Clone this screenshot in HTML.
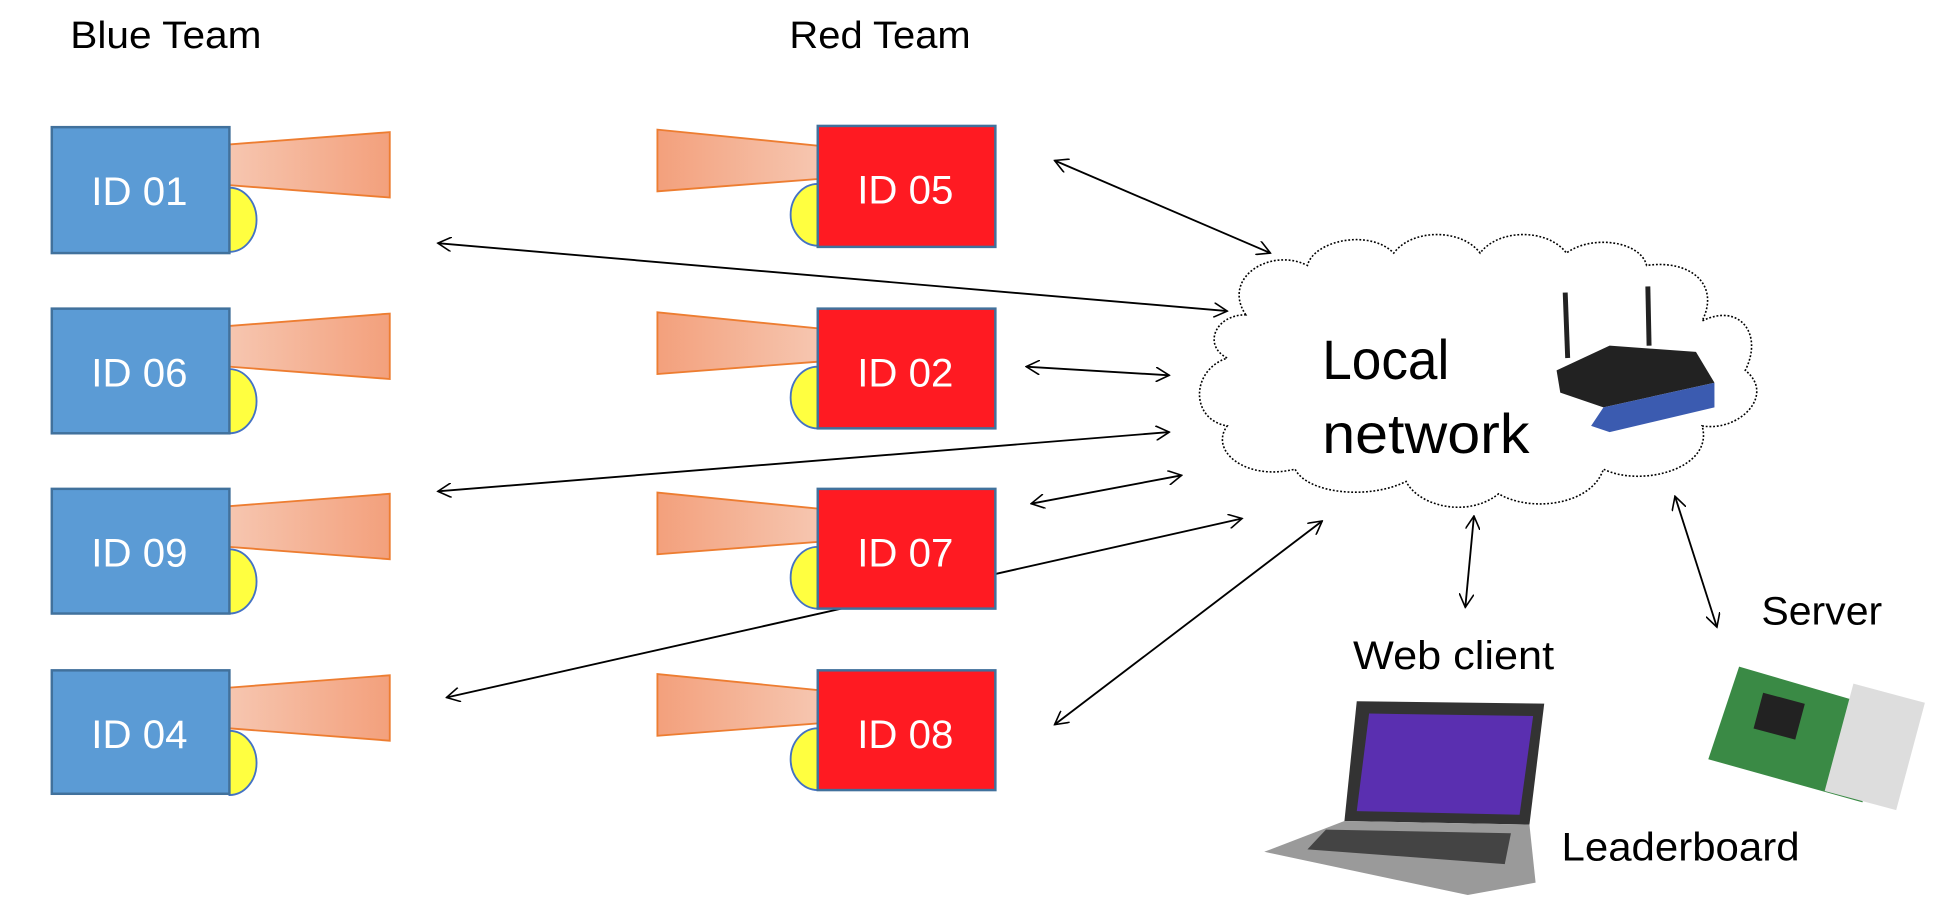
<!DOCTYPE html>
<html><head><style>html,body{margin:0;padding:0;background:#fff;overflow:hidden}svg{display:block}</style></head>
<body>
<svg width="1934" height="916" viewBox="0 0 1568 742" preserveAspectRatio="none" xmlns="http://www.w3.org/2000/svg" font-family="'Liberation Sans', sans-serif">
<defs>
<linearGradient id="gb" x1="0" x2="1"><stop offset="0" stop-color="#f6c6b0"/><stop offset="1" stop-color="#f3a07c"/></linearGradient>
<linearGradient id="gr" x1="0" x2="1"><stop offset="0" stop-color="#f3a07c"/><stop offset="1" stop-color="#f6c6b0"/></linearGradient>
<marker id="a" viewBox="0 0 12 12" refX="11" refY="6" markerWidth="12" markerHeight="12" orient="auto-start-reverse" markerUnits="userSpaceOnUse"><path d="M0,0 L11,6 L0,12" fill="none" stroke="#000" stroke-width="1.3"/></marker>
</defs>
<text x="57" y="39" font-size="31" textLength="155" lengthAdjust="spacingAndGlyphs">Blue Team</text>
<text x="640" y="39" font-size="31" textLength="147" lengthAdjust="spacingAndGlyphs">Red Team</text>
<g>
<g transform="translate(0,0)"><path d="M186,152 a22,26 0 0 1 0,52 z" fill="#ffff40" stroke="#4472c4" stroke-width="1.5"/><polygon points="186,117 316,107 316,160 186,150" fill="url(#gb)" stroke="#ed7d31" stroke-width="1.5"/><rect x="42" y="103" width="144" height="102" fill="#5b9bd5" stroke="#41719c" stroke-width="2"/><text x="74" y="166" font-size="32" fill="#fff" textLength="78" lengthAdjust="spacingAndGlyphs">ID 01</text></g>
<g transform="translate(0,147)"><path d="M186,152 a22,26 0 0 1 0,52 z" fill="#ffff40" stroke="#4472c4" stroke-width="1.5"/><polygon points="186,117 316,107 316,160 186,150" fill="url(#gb)" stroke="#ed7d31" stroke-width="1.5"/><rect x="42" y="103" width="144" height="101" fill="#5b9bd5" stroke="#41719c" stroke-width="2"/><text x="74" y="166" font-size="32" fill="#fff" textLength="78" lengthAdjust="spacingAndGlyphs">ID 06</text></g>
<g transform="translate(0,293)"><path d="M186,152 a22,26 0 0 1 0,52 z" fill="#ffff40" stroke="#4472c4" stroke-width="1.5"/><polygon points="186,117 316,107 316,160 186,150" fill="url(#gb)" stroke="#ed7d31" stroke-width="1.5"/><rect x="42" y="103" width="144" height="101" fill="#5b9bd5" stroke="#41719c" stroke-width="2"/><text x="74" y="166" font-size="32" fill="#fff" textLength="78" lengthAdjust="spacingAndGlyphs">ID 09</text></g>
<g transform="translate(0,440)"><path d="M186,152 a22,26 0 0 1 0,52 z" fill="#ffff40" stroke="#4472c4" stroke-width="1.5"/><polygon points="186,117 316,107 316,160 186,150" fill="url(#gb)" stroke="#ed7d31" stroke-width="1.5"/><rect x="42" y="103" width="144" height="100" fill="#5b9bd5" stroke="#41719c" stroke-width="2"/><text x="74" y="166" font-size="32" fill="#fff" textLength="78" lengthAdjust="spacingAndGlyphs">ID 04</text></g>
</g>
<line x1="362" y1="565" x2="1007" y2="420" stroke="#000" stroke-width="1.5" marker-start="url(#a)" marker-end="url(#a)"/>
<g>
<g transform="translate(0,0)"><path d="M663,149 a22,25 0 0 0 0,50 z" fill="#ffff40" stroke="#4472c4" stroke-width="1.5"/><polygon points="533,105 663,118 663,145 533,155" fill="url(#gr)" stroke="#ed7d31" stroke-width="1.5"/><rect x="663" y="102" width="144" height="98" fill="#ff1a22" stroke="#41719c" stroke-width="2"/><text x="695" y="165" font-size="32" fill="#fff" textLength="78" lengthAdjust="spacingAndGlyphs">ID 05</text></g>
<g transform="translate(0,148)"><path d="M663,149 a22,25 0 0 0 0,50 z" fill="#ffff40" stroke="#4472c4" stroke-width="1.5"/><polygon points="533,105 663,118 663,145 533,155" fill="url(#gr)" stroke="#ed7d31" stroke-width="1.5"/><rect x="663" y="102" width="144" height="97" fill="#ff1a22" stroke="#41719c" stroke-width="2"/><text x="695" y="165" font-size="32" fill="#fff" textLength="78" lengthAdjust="spacingAndGlyphs">ID 02</text></g>
<g transform="translate(0,294)"><path d="M663,149 a22,25 0 0 0 0,50 z" fill="#ffff40" stroke="#4472c4" stroke-width="1.5"/><polygon points="533,105 663,118 663,145 533,155" fill="url(#gr)" stroke="#ed7d31" stroke-width="1.5"/><rect x="663" y="102" width="144" height="97" fill="#ff1a22" stroke="#41719c" stroke-width="2"/><text x="695" y="165" font-size="32" fill="#fff" textLength="78" lengthAdjust="spacingAndGlyphs">ID 07</text></g>
<g transform="translate(0,441)"><path d="M663,149 a22,25 0 0 0 0,50 z" fill="#ffff40" stroke="#4472c4" stroke-width="1.5"/><polygon points="533,105 663,118 663,145 533,155" fill="url(#gr)" stroke="#ed7d31" stroke-width="1.5"/><rect x="663" y="102" width="144" height="97" fill="#ff1a22" stroke="#41719c" stroke-width="2"/><text x="695" y="165" font-size="32" fill="#fff" textLength="78" lengthAdjust="spacingAndGlyphs">ID 08</text></g>
</g>
<path d="M1010,255 C990,225 1030,200 1060,215 C1065,195 1110,185 1130,205 C1145,185 1185,185 1200,205 C1215,185 1255,185 1270,205 C1290,190 1330,195 1335,215 C1370,210 1395,230 1380,260 C1410,245 1430,270 1415,300 C1440,320 1410,350 1380,345 C1390,380 1330,395 1300,380 C1290,410 1240,415 1215,400 C1190,420 1150,410 1140,390 C1110,405 1060,400 1050,380 C1010,390 980,365 995,345 C965,340 965,300 995,290 C975,280 985,255 1010,255 Z" fill="#fff" stroke="#000" stroke-width="1.3" stroke-dasharray="1.5,1.5"/>
<text x="1072" y="307" font-size="45" textLength="103" lengthAdjust="spacingAndGlyphs">Local</text>
<text x="1072" y="367" font-size="45" textLength="168" lengthAdjust="spacingAndGlyphs">network</text>
<g>
<line x1="1271" y1="290" x2="1269" y2="237" stroke="#222" stroke-width="4"/>
<line x1="1337" y1="280" x2="1336" y2="232" stroke="#222" stroke-width="4"/>
<polygon points="1262,300 1305,280 1375,285 1390,310 1300,330 1265,318" fill="#222"/>
<polygon points="1300,330 1390,310 1390,330 1305,350 1290,345" fill="#3b5bb0"/>
</g>
<g stroke="#000" stroke-width="1.5" marker-start="url(#a)" marker-end="url(#a)">
<line x1="855" y1="130" x2="1030" y2="205"/>
<line x1="355" y1="197" x2="995" y2="252"/>
<line x1="832" y1="297" x2="948" y2="304"/>
<line x1="355" y1="398" x2="948" y2="350"/>
<line x1="836" y1="408" x2="958" y2="385"/>
<line x1="855" y1="587" x2="1072" y2="422"/>
<line x1="1188" y1="492" x2="1195" y2="418"/>
<line x1="1358" y1="402" x2="1392" y2="508"/>
</g>
<text x="1097" y="542" font-size="32" textLength="163" lengthAdjust="spacingAndGlyphs">Web client</text>
<text x="1428" y="506" font-size="32" textLength="98" lengthAdjust="spacingAndGlyphs">Server</text>
<text x="1266" y="697" font-size="32" textLength="193" lengthAdjust="spacingAndGlyphs">Leaderboard</text>
<polygon points="1100,568 1252,570 1240,668 1090,665" fill="#333"/>
<polygon points="1110,578 1243,580 1232,660 1100,657" fill="#5a2fb0"/>
<polygon points="1090,665 1240,668 1245,715 1190,725 1025,690" fill="#9a9a9a"/>
<polygon points="1075,672 1225,675 1220,700 1060,688" fill="#444"/>
<polygon points="1410,540 1530,575 1510,650 1385,615" fill="#3a8a45"/>
<rect x="1490" y="560" width="60" height="90" fill="#ddd" transform="rotate(15 1520 605)"/>
<rect x="1425" y="565" width="35" height="30" fill="#222" transform="rotate(15 1442 580)"/>
</svg>
</body></html>
